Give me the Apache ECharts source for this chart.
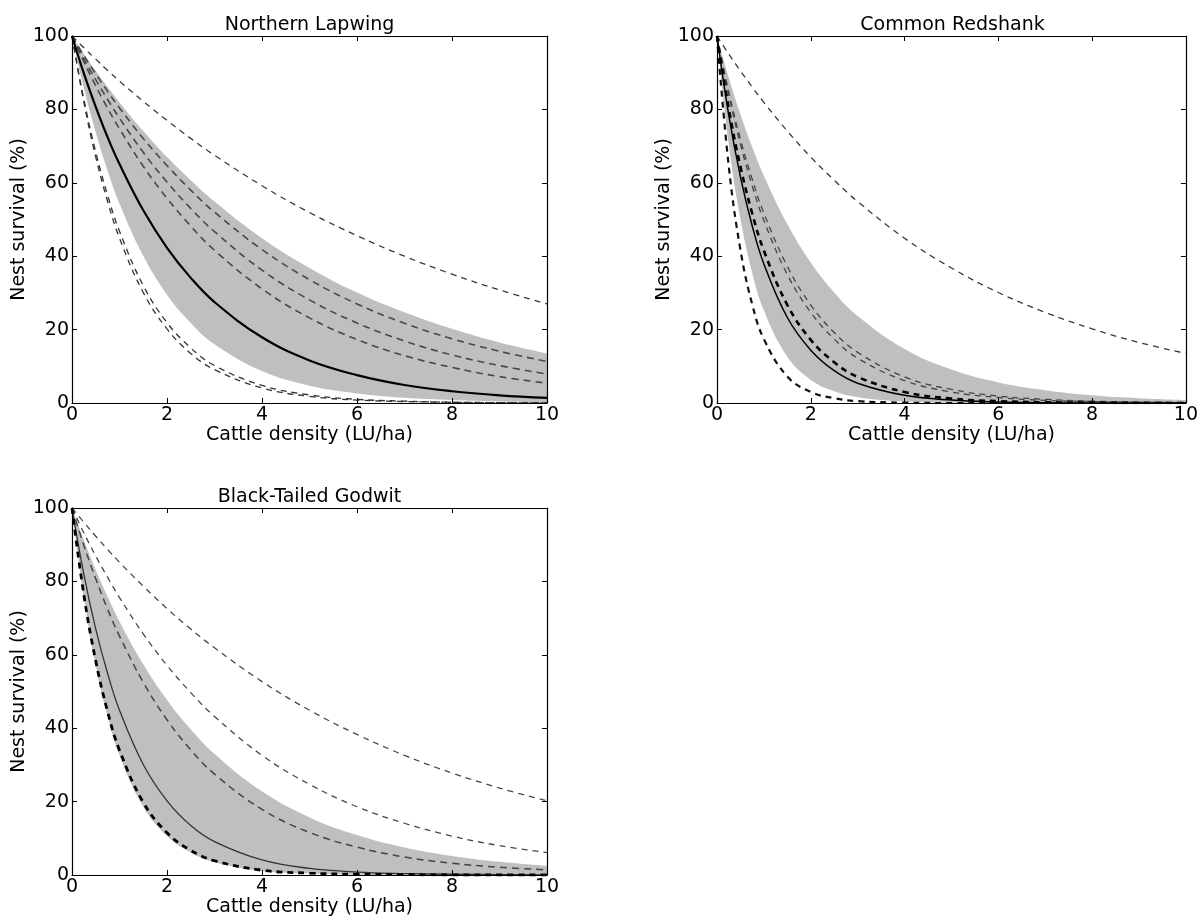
<!DOCTYPE html>
<html><head><meta charset="utf-8">
<script src="https://cdn.jsdelivr.net/npm/echarts@6/dist/echarts.min.js"></script>
<style>html,body{margin:0;padding:0;background:#fff}#c{width:1201px;height:922px}</style>
</head><body><div id="c"></div>
<script>
// ---- data ----
const xs = [0,0.25,0.5,0.75,1,1.5,2,2.5,3,4,5,6,7,8,9,10];
const xTicks = [0,2,4,6,8,10];
const yTicks = [0,20,40,60,80,100];
const titles = ['Northern Lapwing','Common Redshank','Black-Tailed Godwit'];
const xName = 'Cattle density (LU/ha)';
const yName = 'Nest survival (%)';

// Northern Lapwing
const lapTop       = [100,96.8,93.7,90.6,87.7,82.2,77.0,72.1,67.5,59.2,51.9,45.6,40.0,35.1,30.8,27.0];
const lapBandUpper = [100,95.1,90.5,86.1,81.9,74.1,67.0,60.7,54.9,44.9,36.8,30.1,24.7,20.2,16.5,13.5];
const lapDash1     = [100,94.7,89.7,84.9,80.4,72.1,64.7,58.0,52.0,41.8,33.6,27.0,21.7,17.5,14.1,11.3];
const lapDash2     = [100,93.8,88.1,82.7,77.6,68.3,60.2,53.0,46.7,36.2,28.1,21.8,16.9,13.1,10.2,7.9];
const lapDash3     = [100,93.0,86.4,80.3,74.7,64.5,55.8,48.2,41.6,31.1,23.2,17.3,12.9,9.7,7.2,5.4];
const lapMean      = [100,89.8,80.7,72.4,65.1,52.5,42.3,34.1,27.5,17.9,11.6,7.6,4.9,3.2,2.1,1.4];
const lapBandLower = [100,85.9,73.7,63.3,54.3,40.1,29.5,21.8,16.0,8.7,4.7,2.6,1.4,0.8,0.4,0.2];
const lapLow1      = [100,82.7,68.4,56.6,46.8,32.0,21.9,15.0,10.2,4.8,2.2,1.0,0.5,0.2,0.1,0.1];
const lapLow2      = [100,81.9,67.0,54.9,44.9,30.1,20.2,13.5,9.1,4.1,1.8,0.8,0.4,0.2,0.1,0.0];

// Common Redshank
const redTop       = [100,95.1,90.5,86.1,81.9,74.1,67.0,60.7,54.9,44.9,36.8,30.1,24.7,20.2,16.5,13.5];
const redBandUpper = [100,88.7,78.7,69.8,61.9,48.7,38.3,30.1,23.7,14.7,9.1,5.6,3.5,2.1,1.3,0.8];
const redDash1     = [100,84.8,71.9,61.0,51.7,37.2,26.7,19.2,13.8,7.1,3.7,1.9,1.0,0.5,0.3,0.1];
const redDash2     = [100,84.0,70.5,59.2,49.7,35.0,24.7,17.4,12.2,6.1,3.0,1.5,0.7,0.4,0.2,0.1];
const redHeavy     = [100,80.3,64.4,51.7,41.5,26.7,17.2,11.1,7.1,3.0,1.2,0.5,0.2,0.1,0.0,0.0];
const redMean      = [100,78.5,61.6,48.3,37.9,23.3,14.4,8.8,5.4,2.1,0.8,0.3,0.1,0.0,0.0,0.0];
const redBandLower = [100,70.8,50.2,35.5,25.2,12.6,6.3,3.2,1.6,0.4,0.1,0.0,0.0,0.0,0.0,0.0];
const redLow       = [100,64.6,41.7,26.9,17.4,7.2,3.0,1.3,0.5,0.1,0.0,0.0,0.0,0.0,0.0,0.0];

// Black-Tailed Godwit
const godTop       = [100,96.1,92.3,88.7,85.2,78.7,72.6,67.0,61.9,52.7,44.9,38.3,32.6,27.8,23.7,20.2];
const godDash1     = [100,93.2,86.9,81.1,75.6,65.7,57.1,49.7,43.2,32.6,24.7,18.6,14.1,10.6,8.0,6.1];
const godBandUpper = [100,91.2,83.1,75.8,69.1,57.4,47.7,39.7,33.0,22.8,15.7,10.9,7.5,5.2,3.6,2.5];
const godDash2     = [100,89.8,80.7,72.4,65.1,52.5,42.3,34.1,27.5,17.9,11.6,7.6,4.9,3.2,2.1,1.4];
const godMean      = [100,81.9,67.0,54.9,44.9,30.1,20.2,13.5,9.1,4.1,1.8,0.8,0.4,0.2,0.1,0.0];
const godHeavy     = [100,76.3,58.3,44.5,34.0,19.8,11.5,6.7,3.9,1.3,0.5,0.2,0.1,0.0,0.0,0.0];
const godBandLower = [100,75.6,57.1,43.2,32.6,18.6,10.6,6.1,3.5,1.1,0.4,0.1,0.0,0.0,0.0,0.0];

// ---- layout ----
const FONT = 'DejaVu Sans';
const grids = [
  {left:72, top:36, width:475, height:367},
  {left:717, top:36, width:471, height:367},
  {left:72, top:508, width:475, height:367}
];
const SMOOTH = 0.4;
const pairs = arr => xs.map((x,i)=>[x,arr[i]]);
const series = [];
function line(g, arr, color, width, dash, z){
  series.push({type:'line', xAxisIndex:g*2, yAxisIndex:g*2, data:pairs(arr),
    symbol:'none', showSymbol:false, smooth:SMOOTH, silent:true,
    lineStyle:{color:color, width:width, type: dash ? dash : 'solid', cap:'butt'}, z:z||3});
}
// confidence band: grey area under the upper edge, white area under the lower edge
function band(g, lower, upper){
  series.push({type:'line', xAxisIndex:g*2, yAxisIndex:g*2, data:pairs(upper),
    symbol:'none', smooth:SMOOTH, silent:true, lineStyle:{width:0, opacity:0},
    areaStyle:{color:'#bfbfbf', opacity:1}, z:1});
  series.push({type:'line', xAxisIndex:g*2, yAxisIndex:g*2, data:pairs(lower),
    symbol:'none', smooth:SMOOTH, silent:true, lineStyle:{width:0, opacity:0},
    areaStyle:{color:'#ffffff', opacity:1}, z:2});
}

// panel 1
band(0, lapBandLower, lapBandUpper);
line(0, lapTop, '#3a3a3a', 1.3, [6,5]);
line(0, lapDash1, '#484848', 1.6, [7,5]);
line(0, lapDash2, '#484848', 1.6, [7,5]);
line(0, lapDash3, '#484848', 1.6, [7,5]);
line(0, lapMean, '#000', 2.2, null, 4);
line(0, lapLow1, '#333', 1.3, [6,5]);
line(0, lapLow2, '#333', 1.3, [6,5]);
// panel 2
band(1, redBandLower, redBandUpper);
line(1, redTop, '#3a3a3a', 1.3, [6,5]);
line(1, redDash1, '#444', 1.3, [6,5]);
line(1, redDash2, '#444', 1.3, [6,5]);
line(1, redHeavy, '#000', 2.6, [6,5], 4);
line(1, redMean, '#000', 1.5, null, 4);
line(1, redLow, '#111', 2.2, [6,5]);
// panel 3
band(2, godBandLower, godBandUpper);
line(2, godTop, '#484848', 1.3, [6,5]);
line(2, godDash1, '#484848', 1.3, [6,5]);
line(2, godDash2, '#444', 1.5, [7,5]);
line(2, godMean, '#333', 1.3, null, 4);
line(2, godHeavy, '#000', 2.8, [6,5], 4);

const xAxis = [], yAxis = [];
const tickStyle = {show:true, inside:true, length:5, lineStyle:{color:'#000', width:1}};
const axLine = {show:true, onZero:false, lineStyle:{color:'#000', width:1.2}};
const lblStyle = {color:'#000', fontSize:19, fontFamily:FONT};
const nameStyle = {color:'#000', fontSize:19, fontFamily:FONT};
grids.forEach((g,i)=>{
  xAxis.push({type:'value', gridIndex:i, position:'bottom', z:10, min:xTicks[0], max:xTicks[xTicks.length-1], interval:xTicks[1]-xTicks[0],
    axisLine:axLine, axisTick:tickStyle, splitLine:{show:false},
    axisLabel:Object.assign({margin:3}, lblStyle),
    name:xName, nameLocation:'middle', nameGap:22, nameTextStyle:nameStyle});
  xAxis.push({type:'value', gridIndex:i, position:'top', z:10, min:xTicks[0], max:xTicks[xTicks.length-1], interval:xTicks[1]-xTicks[0],
    axisLine:axLine, axisTick:tickStyle, splitLine:{show:false}, axisLabel:{show:false}});
  yAxis.push({type:'value', gridIndex:i, position:'left', z:10, min:yTicks[0], max:yTicks[yTicks.length-1], interval:yTicks[1]-yTicks[0],
    axisLine:axLine, axisTick:tickStyle, splitLine:{show:false},
    axisLabel:Object.assign({margin:3}, lblStyle),
    name:yName, nameLocation:'middle', nameGap:43, nameRotate:90, nameTextStyle:nameStyle});
  yAxis.push({type:'value', gridIndex:i, position:'right', z:10, min:yTicks[0], max:yTicks[yTicks.length-1], interval:yTicks[1]-yTicks[0],
    axisLine:axLine, axisTick:tickStyle, splitLine:{show:false}, axisLabel:{show:false}});
});

const title = grids.map((g,i)=>({text:titles[i], left:g.left+g.width/2, top:g.top-20, textAlign:'center', padding:0,
  textStyle:{color:'#000', fontSize:19, fontWeight:'normal', fontFamily:FONT}}));

const chart = echarts.init(document.getElementById('c'), null, {renderer:'canvas'});
chart.setOption({animation:false, backgroundColor:'#fff', title, grid:grids.map(g=>Object.assign({containLabel:false}, g)),
  xAxis, yAxis, series});
</script></body></html>
